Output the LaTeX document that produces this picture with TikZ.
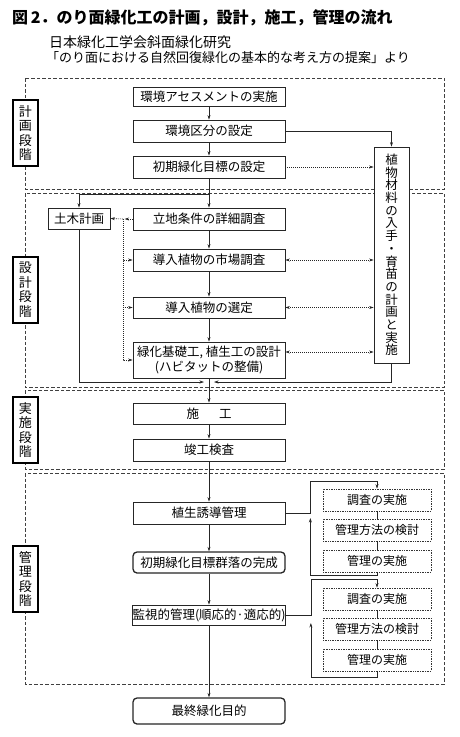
\documentclass[tikz,border=0pt]{standalone}
\usepackage{fontspec}
\newfontfamily\jp{Noto Sans CJK JP}
\usetikzlibrary{arrows.meta}
\tikzset{
  stepbox/.style={draw=black!85, line width=0.8pt, fill=white, minimum width=152pt,
        minimum height=22pt, inner sep=0pt, font=\jp\fontsize{12.5}{15}\selectfont},
  goalbox/.style={stepbox, rounded corners=4pt, line width=1.3pt},
  phasebox/.style={draw=black, line width=1.7pt, fill=white, minimum width=25pt,
        minimum height=66pt, inner sep=0pt, align=center, font=\jp\fontsize{13}{14.5}\selectfont},
  loopbox/.style={draw=black!80, line width=0.6pt, dash pattern=on 0.8pt off 0.9pt, fill=white,
        minimum width=108pt, minimum height=22pt, inner sep=0pt, font=\jp\fontsize{12}{14}\selectfont},
  phase/.style={draw=black!75, line width=0.6pt, dash pattern=on 3.5pt off 2pt},
  arr/.style={-{Stealth[length=4.5pt,width=3pt]}, line width=0.6pt, draw=black!85},
  dotarr/.style={arr, dash pattern=on 1pt off 1pt},
  twoway/.style={{Stealth[length=4.5pt,width=3pt]}-{Stealth[length=4.5pt,width=3pt]},
        line width=0.6pt, draw=black!85, dash pattern=on 1pt off 1pt},
  link/.style={line width=0.6pt, draw=black!85},
}

\begin{document}
\begin{tikzpicture}[x=1pt, y=-1pt]
\useasboundingbox (0,0) rectangle (460,737);

% --- titel + quelle ---
\node[anchor=west, inner sep=0pt, font=\jp\bfseries\fontsize{16}{18}\selectfont] (title) at (12,18)
  {図\,2．のり面緑化工の計画，設計，施工，管理の流れ};
\node[anchor=west, inner sep=0pt, font=\jp\fontsize{14}{16}\selectfont] (src1) at (49,42)
  {日本緑化工学会斜面緑化研究};
\node[anchor=west, inner sep=0pt, font=\jp\fontsize{13}{15}\selectfont] (src2) at (46,58)
  {「のり面における自然回復緑化の基本的な考え方の提案」より};

% --- phasen ---
\foreach \top/\bot in {78/189, 193/387, 390/469, 473/684}
  \draw[phase] (25,\top) rectangle (444,\bot);
\foreach \y/\name/\txt in {133/plan/計\\画\\段\\階, 290/draft/設\\計\\段\\階,
                           430/exec/実\\施\\段\\階, 579/care/管\\理\\段\\階}
  \node[phasebox] (\name) at (25.5,\y) {\txt};

% --- hauptfluss ---
\node[stepbox, minimum height=19pt] (assess) at (209,97) {環境アセスメントの実施};
\node[stepbox] (zoning) at (209,131) {環境区分の設定};
\node[stepbox] (target) at (209,167) {初期緑化目標の設定};
\node[stepbox] (site) at (209,219) {立地条件の詳細調査};
\node[stepbox] (market) at (209,260) {導入植物の市場調査};
\node[stepbox, minimum height=21pt] (choice) at (209,307.5) {導入植物の選定};
\node[stepbox, minimum height=36pt, align=center] (design) at (209,360)
  {緑化基礎工, 植生工の設計\\(ハビタットの整備)};
\node[stepbox, minimum width=62pt, minimum height=21pt] (civil) at (79,218.5) {土木計画};
\node[stepbox, minimum width=35pt, minimum height=216pt, align=center,
      font=\jp\fontsize{12.5}{12.7}\selectfont] (plant) at (391.5,255)
  {植\\物\\材\\料\\の\\入\\手\\・\\育\\苗\\の\\計\\画\\と\\実\\施};
\node[stepbox, minimum height=21pt] (work) at (209,413.5) {施\hspace{20pt}工};
\node[stepbox] (check) at (209,450) {竣工検査};
\node[stepbox] (guide) at (209,513) {植生誘導管理};
\node[goalbox, minimum height=21pt] (early) at (209,562.5) {初期緑化目標群落の完成};
\node[stepbox, minimum height=20pt] (watch) at (209,615) {監視的管理(順応的·適応的)};
\node[goalbox, minimum height=26pt] (final) at (209,711) {最終緑化目的};

% --- pfeile planung ---
\draw[arr] (assess) -- (zoning);
\draw[arr] (zoning) -- (target);
\draw[arr] (target) -- (site);
\draw[arr] (zoning.east) -| (plant.north);
\draw[dotarr] (target.east) -- (target.east -| plant.west);

% --- pfeile entwurf ---
\coordinate (split) at (209,194);
\draw[arr] (split) -| (civil.north);
\draw[arr] (site) -- (market);
\draw[arr] (market) -- (choice);
\draw[arr] (choice) -- (design);
\coordinate (tap) at (123,219);
\draw[dotarr] (site.west) -- ([xshift=-8pt]site.west);
\draw[dotarr] (tap) -- (civil.east);
\draw[dotarr] (tap) |- (market.west);
\draw[dotarr] (tap) |- (choice.west);
\draw[dotarr] (tap) |- (design.west);
\draw[twoway] (market.east) -- (market.east -| plant.west);
\draw[twoway] (choice.east) -- (choice.east -| plant.west);
\draw[twoway] ([yshift=8pt]design.east) -- ([yshift=8pt]design.east -| plant.west);
\coordinate (merge) at (209,382);
\draw[arr, shorten >=5pt] (civil.south) |- (merge);
\draw[arr, shorten >=5pt] (plant.south) |- (merge);

% --- ausfuehrung + pflege ---
\draw[arr] (design) -- (work);
\draw[arr] (work) -- (check);
\draw[arr] (check) -- (guide);
\draw[arr] (guide) -- (early);
\draw[arr] (early) -- (watch);
\draw[arr] (watch) -- (final);

% schleifen rechts
\foreach \i/\y in {1/500, 2/599} {
  \node[loopbox] (survey\i) at (377,\y) {調査の実施};
  \node[loopbox] (method\i) at (377,\y+30) {管理方法の検討};
  \node[loopbox] (act\i) at (377,\y+61) {管理の実施};
  \draw[link] (survey\i) -- (method\i) -- (act\i);
}
\draw[arr] (guide.east) -- ++(25,0) |- ([yshift=7pt]survey1.north) -- (survey1.north);
\draw[arr] (act1.south) -- ++(0,3) -| ([shift={(25pt,-5pt)}]guide.east);
\draw[arr] (watch.east) -- ++(25,0) |- ([yshift=8pt]survey2.north) -- (survey2.north);
\draw[arr] (act2.south) -- ++(0,6) -| ([shift={(25pt,-8pt)}]watch.east);
\end{tikzpicture}
\end{document}
